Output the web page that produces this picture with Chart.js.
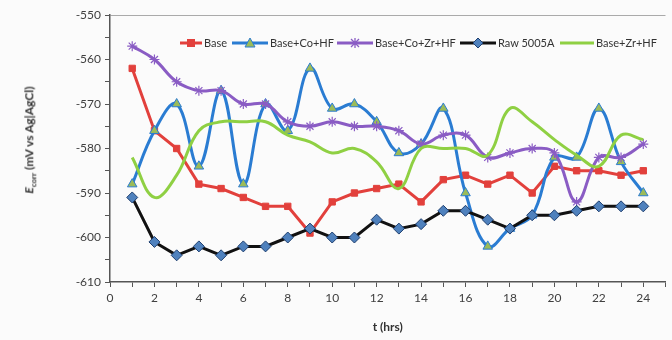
<!DOCTYPE html>
<html><head><meta charset="utf-8">
<script src="https://cdn.jsdelivr.net/npm/chart.js@4"></script>
<style>
html,body{margin:0;padding:0;background:#fbfbfb;}
#wrap{position:relative;width:672px;height:340px;overflow:hidden;}
.item{position:absolute;top:36px;display:flex;align-items:center;font:11px Lato, sans-serif;color:#333;white-space:nowrap;}
.item svg{margin-right:2px;}
#ytitle{position:absolute;left:30px;top:140px;transform:translate(-50%,-50%) rotate(-90deg);font:bold 12px Lato, sans-serif;white-space:nowrap;color:#333;}
#ytitle sub{font-size:8px;}
</style></head>
<body>
<div id="wrap">
<canvas id="c" width="672" height="340"></canvas>
<div id="ytitle"><i>E</i><sub>corr</sub> (mV vs Ag|AgCl)</div>
<div id="legend"></div>
</div>
<script>
// ---- data ----
const hours = [1,2,3,4,5,6,7,8,9,10,11,12,13,14,15,16,17,18,19,20,21,22,23,24];
const seriesNames = ['Base','Base+Co+HF','Base+Co+Zr+HF','Raw 5005A','Base+Zr+HF'];
const base      = [-562,-576,-580,-588,-589,-591,-593,-593,-599,-592,-590,-589,-588,-592,-587,-586,-588,-586,-590,-584,-585,-585,-586,-585];
const baseCoHF  = [-588,-576,-570,-584,-567,-588,-570,-576,-562,-571,-570,-574,-581,-579,-571,-590,-602,-598,-595,-582,-582,-571,-583,-590];
const baseCoZrHF= [-557,-560,-565,-567,-567,-570,-570,-574,-575,-574,-575,-575,-576,-579,-577,-577,-582,-581,-580,-581,-592,-582,-582,-579];
const raw5005A  = [-591,-601,-604,-602,-604,-602,-602,-600,-598,-600,-600,-596,-598,-597,-594,-594,-596,-598,-595,-595,-594,-593,-593,-593];
const baseZrHF  = [-582,-591,-586,-576,-574,-574,-574,-577,-578.5,-581,-580,-583,-589,-580,-580,-580,-581.5,-571,-574,-578,-581.5,-584,-577,-578];
const xTickLabels = [0,2,4,6,8,10,12,14,16,18,20,22,24];
const yTickLabels = [-550,-560,-570,-580,-590,-600,-610];

const RED='#E2403C', BLUE='#2A7CD2', PURPLE='#8A5CC4', BLACK='#111111', GREEN='#8FD043';
const pts = arr => hours.map((h,i)=>({x:h,y:arr[i]}));

const datasets = [
  {label:seriesNames[0], data:pts(base), borderColor:RED, backgroundColor:RED, borderWidth:3, pointStyle:'rect', pointRadius:4.5, pointBorderWidth:1, tension:0, order:4},
  {label:seriesNames[1], data:pts(baseCoHF), borderColor:BLUE, backgroundColor:'#9BBB59', pointBorderColor:BLUE, borderWidth:3, pointStyle:'triangle', pointRadius:5.5, pointBorderWidth:1, tension:0.4, order:3},
  {label:seriesNames[2], data:pts(baseCoZrHF), borderColor:PURPLE, backgroundColor:PURPLE, borderWidth:3, pointStyle:'star', pointRadius:5, pointBorderWidth:1.2, tension:0.4, order:2},
  {label:seriesNames[3], data:pts(raw5005A), borderColor:BLACK, backgroundColor:'#4F81BD', pointBorderColor:'#1F3F6F', borderWidth:3, pointStyle:'rectRot', pointRadius:5.5, pointBorderWidth:1, tension:0, order:1},
  {label:seriesNames[4], data:pts(baseZrHF), borderColor:GREEN, backgroundColor:GREEN, borderWidth:3, pointRadius:0, tension:0.4, order:0}
];

new Chart(document.getElementById('c'), {
  type:'line',
  data:{datasets},
  options:{
    responsive:false, animation:false, devicePixelRatio:1,
    layout:{padding:{top:15,right:0,left:0,bottom:0}},
    plugins:{legend:{display:false}, tooltip:{enabled:false}},
    scales:{
      x:{type:'linear', min:0, max:25,
        border:{color:'#555', width:1.5},
        grid:{drawOnChartArea:false, drawTicks:true, tickLength:5, tickColor:'#555'},
        ticks:{stepSize:1, autoSkip:false, maxRotation:0, padding:4, color:'#404040', font:{family:'Lato', size:12},
          callback:v => xTickLabels.includes(v) ? String(v) : ''},
        title:{display:true, text:'t (hrs)', color:'#333', font:{family:'Lato', size:12, weight:'bold'}, padding:{top:2,bottom:6}},
        afterFit:s=>{s.height=58;}
      },
      y:{min:-610, max:-550,
        border:{color:'#555', width:1.5},
        grid:{drawOnChartArea:true, drawTicks:true, tickLength:5, tickColor:'#555',
          color:ctx => (ctx.tick && ctx.tick.value===-550) ? '#aaa' : 'rgba(0,0,0,0)'},
        ticks:{stepSize:5, autoSkip:false, padding:4, color:'#404040', font:{family:'Lato', size:12},
          callback:v => yTickLabels.includes(v) ? String(v) : ''},
        afterFit:s=>{s.width=110;}
      }
    }
  }
});

// HTML legend (line + marker samples)
const legendLeft = [180,232,337,460,560];
const legendLineW = [22,36,36,36,34];
const markerSvg = [
  (w)=>`<rect x="${w/2-4}" y="1" width="8" height="8" fill="${RED}"/>`,
  (w)=>`<polygon points="${w/2},0 ${w/2+5},9 ${w/2-5},9" fill="#9BBB59" stroke="${BLUE}" stroke-width="1"/>`,
  (w)=>`<path d="M${w/2-4} 1 L${w/2+4} 9 M${w/2+4} 1 L${w/2-4} 9 M${w/2} 0 L${w/2} 10" stroke="${PURPLE}" stroke-width="1.3"/>`,
  (w)=>`<polygon points="${w/2},0 ${w/2+5},5 ${w/2},10 ${w/2-5},5" fill="#4F81BD" stroke="#1F3F6F" stroke-width="1"/>`,
  (w)=>''
];
const lg = document.getElementById('legend');
datasets.forEach((d,i)=>{
  const w = legendLineW[i];
  const el=document.createElement('div');
  el.className='item';
  el.style.left=legendLeft[i]+'px';
  el.innerHTML=`<svg width="${w}" height="10"><line x1="0" y1="5" x2="${w}" y2="5" stroke="${d.borderColor}" stroke-width="3"/>${markerSvg[i](w)}</svg><span>${d.label}</span>`;
  lg.appendChild(el);
});
</script>
</body></html>
